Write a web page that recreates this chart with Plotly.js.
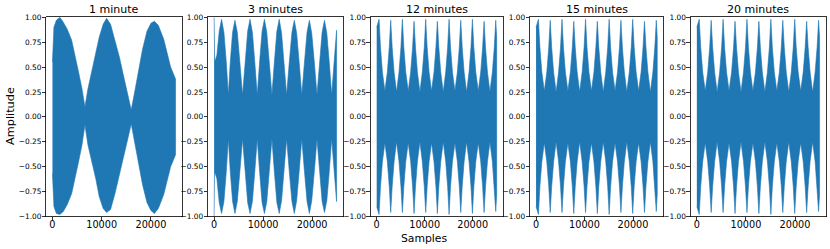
<!DOCTYPE html>
<html><head><meta charset="utf-8">
<script src="https://cdn.plot.ly/plotly-3.0.1.min.js"></script>
<style>html,body{margin:0;padding:0;background:#fff}#c{width:830px;height:249px}</style>
</head><body><div id="c"></div><script>
const titles = ["1 minute","3 minutes","12 minutes","15 minutes","20 minutes"];
const yTickVals = [-1,-0.75,-0.5,-0.25,0,0.25,0.5,0.75,1];
const yTickText = ["\u22121.00","\u22120.75","\u22120.50","\u22120.25","0.00","0.25","0.50","0.75","1.00"];
const xTickVals = [0,10000,20000];
const xTickText = ["0","10000","20000"];

// envelope of each waveform: sample index, upper and lower amplitude
const env1X   = [0,300,800,1500,2200,3000,3900,4700,5300,6000,6600,7200,8000,8800,9500,10300,11000,11800,12700,13600,14400,15300,16000,16700,17500,18300,19200,20000,20700,21500,22600,23400,24000,25000];
const env1Top = [0.55,0.9,0.97,1.0,0.95,0.88,0.77,0.6,0.45,0.28,0.1,0.28,0.45,0.62,0.8,0.93,0.99,0.93,0.77,0.6,0.42,0.22,0.07,0.25,0.47,0.68,0.86,0.94,0.96,0.92,0.78,0.62,0.5,0.38];
const env1Bot = [-0.57,-0.9,-0.97,-0.98,-0.95,-0.88,-0.77,-0.6,-0.45,-0.28,-0.08,-0.28,-0.45,-0.62,-0.8,-0.92,-0.96,-0.93,-0.77,-0.6,-0.42,-0.22,-0.07,-0.25,-0.47,-0.68,-0.86,-0.94,-0.97,-0.92,-0.78,-0.62,-0.5,-0.38];

const env2X   = [0,60,120,560,1040,1520,2000,2480,2900,3300,3770,4250,4730,5250,5800,6350,6850,7330,7810,8300,8800,9300,9790,10270,10750,11250,11800,12300,12810,13290,13770,14250,14800,15350,15890,16370,16850,17350,17900,18450,18970,19450,19930,20450,21000,21550,22050,22530,23010,23500,24000,24500,25000];
const env2Top = [1.0,0.6,0.55,0.62,0.86,0.98,0.85,0.55,0.22,0.55,0.85,0.97,0.85,0.55,0.22,0.55,0.86,0.98,0.85,0.55,0.22,0.56,0.86,0.98,0.85,0.55,0.22,0.55,0.86,0.98,0.84,0.55,0.22,0.55,0.85,0.97,0.84,0.55,0.22,0.55,0.85,0.97,0.84,0.55,0.22,0.55,0.85,0.97,0.84,0.55,0.22,0.55,0.87];
const env2Bot = [-1.0,-0.6,-0.55,-0.62,-0.86,-0.97,-0.85,-0.55,-0.22,-0.55,-0.85,-0.97,-0.85,-0.55,-0.22,-0.55,-0.86,-0.97,-0.85,-0.55,-0.22,-0.56,-0.86,-0.97,-0.85,-0.55,-0.22,-0.55,-0.86,-0.97,-0.84,-0.55,-0.22,-0.55,-0.85,-0.97,-0.84,-0.55,-0.22,-0.55,-0.85,-0.97,-0.84,-0.55,-0.22,-0.55,-0.85,-0.96,-0.84,-0.55,-0.22,-0.55,-0.85];

const env3X   = [0,490,790,1190,1705,2220,2620,2920,3220,3620,4135,4650,5050,5350,5650,6050,6565,7080,7480,7780,8080,8480,8995,9510,9910,10210,10510,10910,11425,11940,12340,12640,12940,13340,13860,14380,14780,15080,15380,15780,16295,16810,17210,17510,17810,18210,18725,19240,19640,19940,20240,20640,21155,21670,22070,22370,22670,23070,23585,24100,24500,24800,25000];
const env3Top = [0.9,0.98,0.7,0.45,0.26, 0.45,0.7,0.97,0.7,0.45,0.25, 0.45,0.7,0.98,0.7,0.45,0.26, 0.45,0.7,0.96,0.7,0.45,0.25, 0.45,0.7,0.98,0.7,0.45,0.26, 0.45,0.7,0.96,0.7,0.45,0.25, 0.45,0.7,0.98,0.7,0.45,0.26, 0.45,0.7,0.97,0.7,0.45,0.25, 0.45,0.7,0.98,0.7,0.45,0.26, 0.45,0.7,0.96,0.7,0.45,0.25, 0.45,0.7,0.97,0.8];
const env3Bot = [-0.9,-0.98,-0.7,-0.45,-0.26, -0.45,-0.7,-0.96,-0.7,-0.45,-0.25, -0.45,-0.7,-0.96,-0.7,-0.45,-0.26, -0.45,-0.7,-0.97,-0.7,-0.45,-0.25, -0.45,-0.7,-0.96,-0.7,-0.45,-0.26, -0.45,-0.7,-0.97,-0.7,-0.45,-0.25, -0.45,-0.7,-0.98,-0.7,-0.45,-0.26, -0.45,-0.7,-0.96,-0.7,-0.45,-0.25, -0.45,-0.7,-0.97,-0.7,-0.45,-0.26, -0.45,-0.7,-0.96,-0.7,-0.45,-0.25, -0.45,-0.7,-0.95,-0.78];

const env4X   = env3X;
const env4Top = env3Top;
const env4Bot = env3Bot;
const env5X   = env3X;
const env5Top = env3Top;
const env5Bot = env3Bot;

const envs = [[env1X,env1Top,env1Bot],[env2X,env2Top,env2Bot],[env3X,env3Top,env3Bot],[env4X,env4Top,env4Bot],[env5X,env5Top,env5Bot]];

const W = 830, H = 249;
const panelsPx = [[46.3,181.7],[208,342.7],[370.7,502.7],[530,663.3],[690.7,825.7]];
const yTopPx = 17.3, yBotPx = 216.5;
const blue = '#1f77b4';

const traces = [];
const layout = {
  width: W, height: H, margin:{l:0,r:0,t:0,b:0},
  paper_bgcolor:'#fff', plot_bgcolor:'#fff', showlegend:false,
  font:{family:'DejaVu Sans', color:'#000'},
  annotations:[]
};
envs.forEach((e,i)=>{
  const [xs,top,bot] = e;
  const px = xs.concat(xs.slice().reverse());
  const py = top.concat(bot.slice().reverse());
  const n = i===0?'':String(i+1);
  traces.push({type:'scatter',mode:'lines',x:px,y:py,fill:'toself',fillcolor:blue,
    line:{color:blue,width:0.6},xaxis:'x'+n,yaxis:'y'+n,hoverinfo:'skip'});
  const dom = [panelsPx[i][0]/W, panelsPx[i][1]/W];
  const common = {showline:true, mirror:true, linecolor:'#000', linewidth:0.8,
    ticks:'outside', ticklen:3.5, tickwidth:0.8, tickcolor:'#000', showgrid:false, zeroline:false};
  layout['xaxis'+n] = Object.assign({}, common, {domain:dom, range:[-1250,26250], anchor:'y'+n,
    tickmode:'array', tickvals:xTickVals, ticktext:xTickText, ticklabelstandoff:-4,
    tickfont:{size:9.7,family:'DejaVu Sans'}});
  layout['yaxis'+n] = Object.assign({}, common, {domain:[(H-yBotPx)/H,(H-yTopPx)/H], range:[-1,1], anchor:'x'+n,
    tickmode:'array', tickvals:yTickVals, ticktext:yTickText, ticklabelstandoff:-1,
    tickfont:{size:7.4,family:'DejaVu Sans'}});
  layout.annotations.push({text:titles[i], xref:'paper', yref:'paper', x:(dom[0]+dom[1])/2, y:1-9.5/H,
    xanchor:'center', yanchor:'middle', showarrow:false, font:{size:11,family:'DejaVu Sans',color:'#000'}});
});
layout.annotations.push({text:'Samples', xref:'paper', yref:'paper', x:424/W, y:1-238.5/H,
  xanchor:'center', yanchor:'middle', showarrow:false, font:{size:10.8,family:'DejaVu Sans',color:'#000'}});
layout.annotations.push({text:'Amplitude', xref:'paper', yref:'paper', x:10/W, y:1-116/H, textangle:-90,
  xanchor:'center', yanchor:'middle', showarrow:false, font:{size:11.3,family:'DejaVu Sans',color:'#000'}});
Plotly.newPlot('c', traces, layout, {staticPlot:true, displayModeBar:false});
</script></body></html>
